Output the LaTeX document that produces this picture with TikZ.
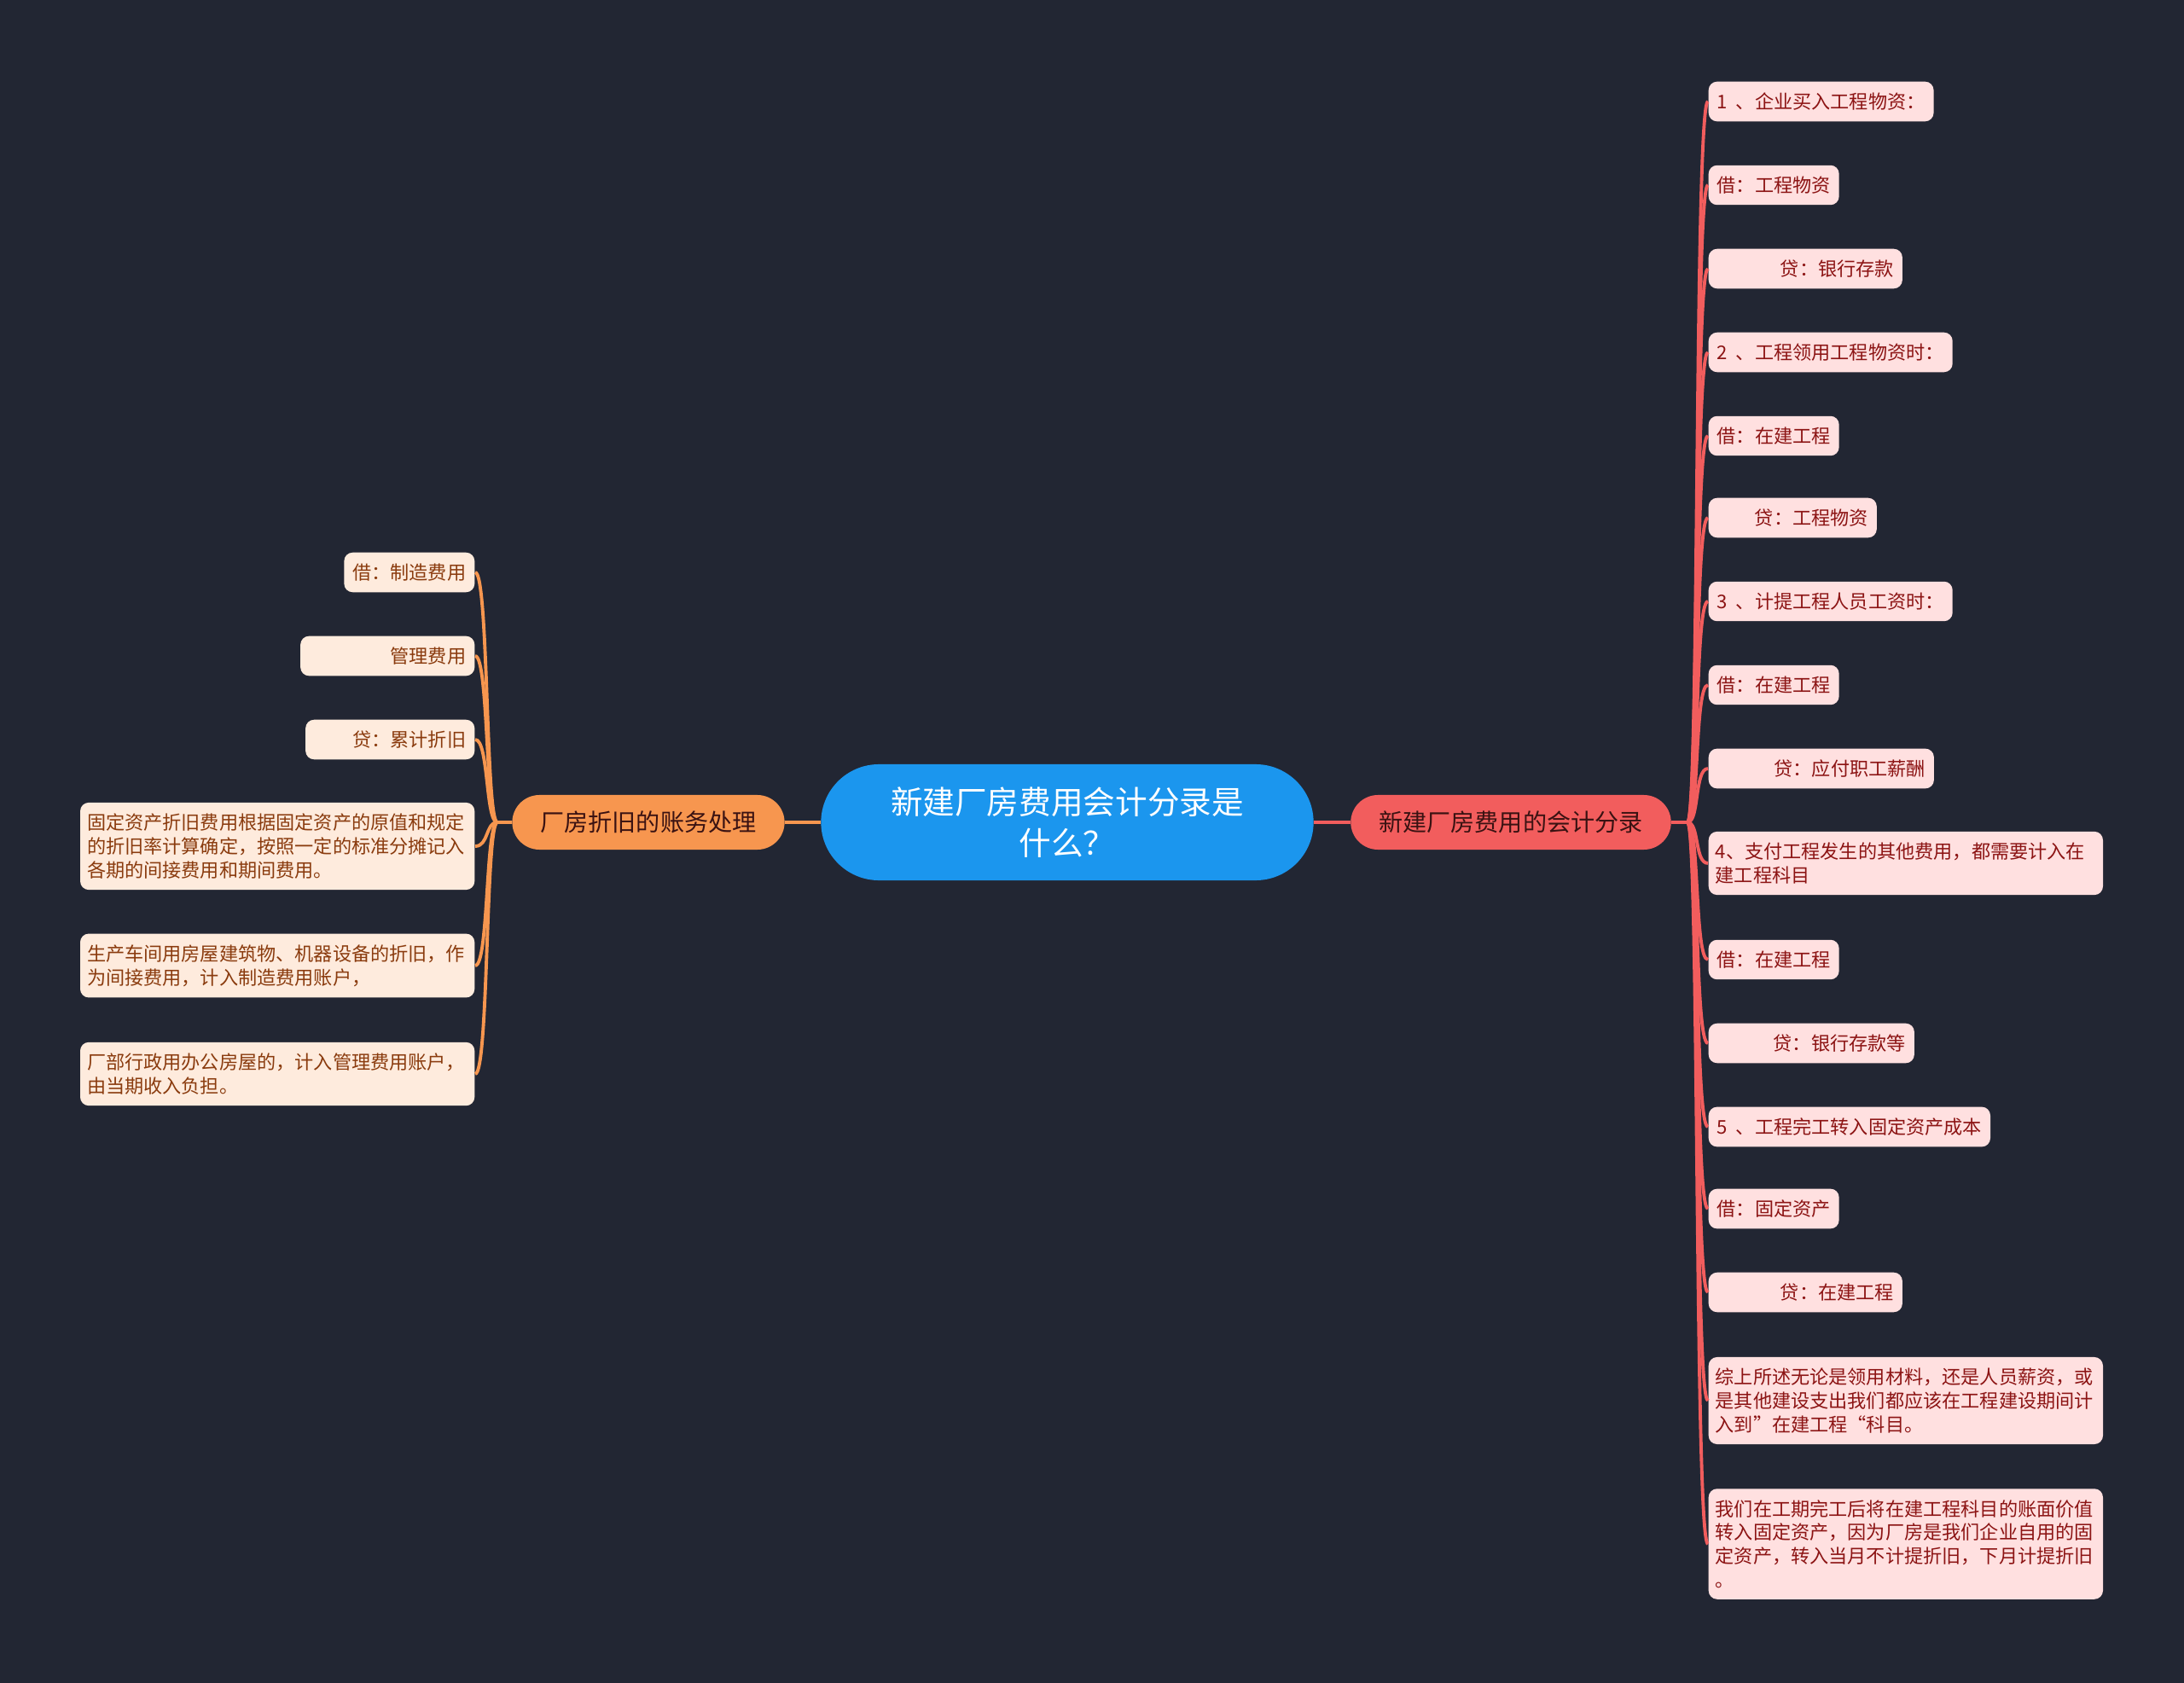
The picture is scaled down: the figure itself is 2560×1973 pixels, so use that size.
\documentclass[tikz,border=0pt]{standalone}
\usepackage{fontspec}
\setmainfont{Noto Sans CJK SC}
\usepackage{xcolor}
\definecolor{nightbg}{HTML}{222633}
\definecolor{rootblue}{HTML}{1B96EE}
\definecolor{entryred}{HTML}{F25D5D}
\definecolor{deprorange}{HTML}{F7964F}
\definecolor{entrypink}{HTML}{FFE0E0}
\definecolor{entryink}{HTML}{8C1414}
\definecolor{deprpeach}{HTML}{FEEBDD}
\definecolor{deprink}{HTML}{8A3B0E}
\definecolor{branchink}{HTML}{3A1212}
\usepackage{tikz}

\newcommand{\stepno}[1]{#1\hspace{0.45em}}

\tikzset{
  root/.style={fill=rootblue, text=white, rounded corners=0.68cm,
    minimum width=5.77cm, minimum height=1.36cm, align=center,
    font=\fontsize{10.7pt}{13.8pt}\selectfont},
  branch/.style={rounded corners=0.32cm, minimum height=0.64cm,
    inner xsep=0.33cm, text=branchink, font=\fontsize{8pt}{10pt}\selectfont},
  leaf/.style={rounded corners=0.1cm, inner xsep=0.1cm, inner ysep=0.13cm,
    font=\fontsize{6.3pt}{7.9pt}\selectfont},
  rleaf/.style={leaf, fill=entrypink, text=entryink, anchor=west},
  lleaf/.style={leaf, fill=deprpeach, text=deprink, anchor=east},
  para/.style={text width=4.46cm, align=left, inner xsep=0.08cm},
  credit/.style={text width=#1, align=right},
  rline/.style={draw=entryred, line width=1.1pt},
  lline/.style={draw=deprorange, line width=1.1pt},
}

\begin{document}
\begin{tikzpicture}[x=0.01cm, y=-0.01cm]
  % Background
  \fill[nightbg] (0,0) rectangle (2560,1973);
  % Root and the two main branches
  \node[root] (root) at (1251,964) {新建厂房费用会计分录是\\什么？};
  \node[branch, fill=entryred] (rb) at (1771,964) {新建厂房费用的会计分录};
  \node[branch, fill=deprorange] (lb) at (760,964) {厂房折旧的账务处理};
  \draw[rline, line width=1.3pt] (root.east) -- (rb.west);
  \draw[lline, line width=1.3pt] (root.west) -- (lb.east);
  \coordinate (rj) at (1978,964);
  \coordinate (lj) at (583,964);
  \draw[rline] (rb.east) -- (rj);
  \draw[lline] (lb.west) -- (lj);
  % Journal entries (right side)
  \node[rleaf] (r1) at (2002,119) {\stepno{1}、企业买入工程物资：};
  \node[rleaf] (r2) at (2002,217) {借：工程物资};
  \node[rleaf, credit=2.07cm] (r3) at (2002,315) {贷：银行存款};
  \node[rleaf] (r4) at (2002,413) {\stepno{2}、工程领用工程物资时：};
  \node[rleaf] (r5) at (2002,511) {借：在建工程};
  \node[rleaf, credit=1.77cm] (r6) at (2002,607) {贷：工程物资};
  \node[rleaf] (r7) at (2002,705) {\stepno{3}、计提工程人员工资时：};
  \node[rleaf] (r8) at (2002,803) {借：在建工程};
  \node[rleaf, credit=2.44cm] (r9) at (2002,901) {贷：应付职工薪酬};
  \node[rleaf, para] (r10) at (2002,1012)
    {4、支付工程发生的其他费用，都需要计入在\\建工程科目};
  \node[rleaf] (r11) at (2002,1125) {借：在建工程};
  \node[rleaf, credit=2.21cm] (r12) at (2002,1223) {贷：银行存款等};
  \node[rleaf] (r13) at (2002,1321) {\stepno{5}、工程完工转入固定资产成本};
  \node[rleaf] (r14) at (2002,1417) {借：固定资产};
  \node[rleaf, credit=2.07cm] (r15) at (2002,1515) {贷：在建工程};
  \node[rleaf, para] (r16) at (2002,1642)
    {综上所述无论是领用材料，还是人员薪资，或\\是其他建设支出我们都应该在工程建设期间计\\入到”在建工程“科目。};
  \node[rleaf, para] (r17) at (2002,1810)
    {我们在工期完工后将在建工程科目的账面价值\\转入固定资产，因为厂房是我们企业自用的固\\定资产，转入当月不计提折旧，下月计提折旧\\。};
  \foreach \i in {1,...,17}
    \draw[rline] (rj) .. controls +(14,0) and +(-16,0) .. (r\i.west);
  % Depreciation (left side)
  \node[lleaf] (l1) at (557,671) {借：制造费用};
  \node[lleaf, credit=1.84cm] (l2) at (557,769) {管理费用};
  \node[lleaf, credit=1.78cm] (l3) at (557,867) {贷：累计折旧};
  \node[lleaf, para] (l4) at (557,992)
    {固定资产折旧费用根据固定资产的原值和规定\\的折旧率计算确定，按照一定的标准分摊记入\\各期的间接费用和期间费用。};
  \node[lleaf, para] (l5) at (557,1132)
    {生产车间用房屋建筑物、机器设备的折旧，作\\为间接费用，计入制造费用账户，};
  \node[lleaf, para] (l6) at (557,1259)
    {厂部行政用办公房屋的，计入管理费用账户，\\由当期收入负担。};
  \foreach \i in {1,...,6}
    \draw[lline] (lj) .. controls +(-14,0) and +(16,0) .. (l\i.east);
\end{tikzpicture}
\end{document}
